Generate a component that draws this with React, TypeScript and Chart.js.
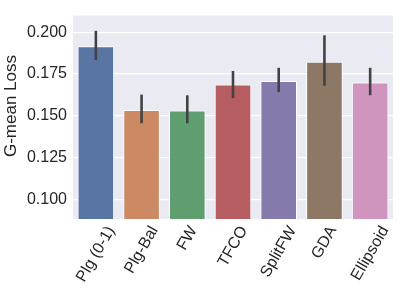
import React, { useEffect, useRef } from "react";
import { Chart, registerables } from "chart.js";

Chart.register(...registerables);

const categories = ["Plg (0-1)", "Plg-Bal", "FW", "TFCO", "SplitFW", "GDA", "Ellipsoid"];
const means = [0.1916, 0.1535, 0.1532, 0.1688, 0.1709, 0.1823, 0.1699];
const errLow = [0.1834, 0.1456, 0.1456, 0.1606, 0.1642, 0.168, 0.1623];
const errHigh = [0.2008, 0.1627, 0.1623, 0.1768, 0.1787, 0.1981, 0.1787];
const barColors = ["#5975A4", "#CC8963", "#5F9E6E", "#B55D60", "#857AAB", "#8D7866", "#D095BF"];
const yTicks = [0.1, 0.125, 0.15, 0.175, 0.2];
const yLabel = "G-mean Loss";

const FONT = "'Liberation Sans', Arial, sans-serif";

export default function App() {
  const ref = useRef<HTMLCanvasElement | null>(null);

  useEffect(() => {
    const canvas = ref.current;
    if (!canvas) return;

    const bgPlugin = {
      id: "bg",
      beforeDraw(chart: any) {
        const { ctx, chartArea } = chart;
        ctx.save();
        ctx.fillStyle = "#EAEAF2";
        ctx.fillRect(chartArea.left, chartArea.top, chartArea.right - chartArea.left, chartArea.bottom - chartArea.top);
        ctx.restore();
      },
    };

    const errPlugin = {
      id: "err",
      afterDatasetsDraw(chart: any) {
        const { ctx } = chart;
        const meta = chart.getDatasetMeta(0);
        const ys = chart.scales.y;
        ctx.save();
        ctx.strokeStyle = "#424242";
        ctx.lineWidth = 2.6;
        ctx.lineCap = "butt";
        meta.data.forEach((bar: any, i: number) => {
          const y1 = ys.getPixelForValue(errLow[i]);
          const y2 = ys.getPixelForValue(errHigh[i]);
          ctx.beginPath();
          ctx.moveTo(bar.x, y1);
          ctx.lineTo(bar.x, y2);
          ctx.stroke();
        });
        ctx.restore();
      },
    };

    const labelPlugin = {
      id: "labels",
      afterDraw(chart: any) {
        const { ctx, chartArea } = chart;
        const xs = chart.scales.x;
        const size = 16;
        const ang = (60 * Math.PI) / 180;
        ctx.save();
        ctx.fillStyle = "#262626";
        ctx.font = `${size}px ${FONT}`;
        ctx.textAlign = "center";
        ctx.textBaseline = "middle";
        const top = chartArea.bottom + 5;
        categories.forEach((lab, i) => {
          const w = ctx.measureText(lab).width;
          const h = size * 0.9;
          const bh = w * Math.sin(ang) + h * Math.cos(ang);
          const x = xs.getPixelForValue(i);
          const y = top + bh / 2;
          ctx.save();
          ctx.translate(x, y);
          ctx.rotate(-ang);
          ctx.fillText(lab, 0, 0);
          ctx.restore();
        });
        // y label
        ctx.font = `17px ${FONT}`;
        ctx.save();
        ctx.translate(11, 106);
        ctx.rotate(-Math.PI / 2);
        ctx.fillText(yLabel, 0, 0);
        ctx.restore();
        ctx.restore();
      },
    };

    const chart = new Chart(canvas, {
      type: "bar",
      data: {
        labels: categories,
        datasets: [
          {
            data: means,
            backgroundColor: barColors,
            borderColor: "#FFFFFF",
            borderWidth: 1,
            barPercentage: 0.8,
            categoryPercentage: 1,
          },
        ],
      },
      options: {
        responsive: false,
        animation: false,
        devicePixelRatio: 1,
        layout: { padding: { top: 6, right: 6, left: 0, bottom: 0 } },
        plugins: { legend: { display: false }, tooltip: { enabled: false } },
        scales: {
          x: {
            grid: { display: false },
            border: { display: false },
            ticks: { display: false },
            afterFit(scale: any) {
              scale.height = 75;
            },
          },
          y: {
            min: 0.0884,
            max: 0.2099,
            afterBuildTicks(scale: any) {
              scale.ticks = yTicks.map((v) => ({ value: v }));
            },
            grid: { color: "#FFFFFF", lineWidth: 1.3, drawTicks: false },
            border: { display: false },
            ticks: {
              color: "#262626",
              font: { family: FONT, size: 16 },
              padding: 6,
              callback: (v: any) => Number(v).toFixed(3),
            },
            afterFit(scale: any) {
              scale.width = 73;
            },
          },
        },
      },
      plugins: [bgPlugin, errPlugin, labelPlugin],
    });

    return () => chart.destroy();
  }, []);

  return (
    <div style={{ position: "fixed", left: 0, top: 0, width: 399, height: 294, background: "#FFFFFF" }}>
      <canvas ref={ref} width={399} height={294} style={{ display: "block" }} />
    </div>
  );
}
